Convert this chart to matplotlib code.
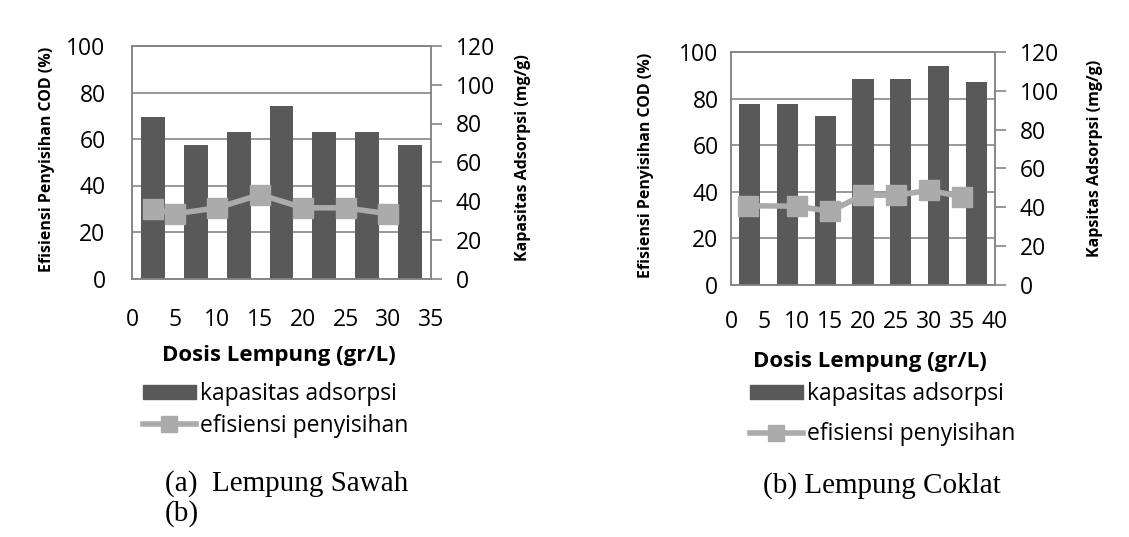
import numpy as np
import matplotlib
matplotlib.use('Agg')
import matplotlib.pyplot as plt
from matplotlib.patches import Patch
from matplotlib.lines import Line2D

plt.rcParams['font.family'] = ['Open Sans', 'DejaVu Sans']

# (a) Lempung Sawah
sawah_kap = [83.3, 68.8, 75.5, 88.9, 75.5, 75.5, 68.8]      # mg/g
sawah_dosis = [2.5, 5, 10, 15, 20, 25, 30]                 # gr/L
sawah_eff = [30.0, 27.8, 30.4, 36.1, 30.4, 30.4, 27.8]     # %
sawah_xmax = 35

# (b) Lempung Coklat
coklat_kap = [93.1, 93.1, 86.8, 106.1, 106.1, 112.6, 104.7]
coklat_dosis = [2.5, 10, 15, 20, 25, 30, 35]
coklat_eff = [33.9, 33.7, 31.5, 38.5, 38.4, 40.5, 37.8]
coklat_xmax = 40

W, H = 1129, 537
BAR = '#595959'
LINE = '#ababab'
GRID = '#868686'
FS = 16.5
LBL = 16
YFS = 11.5

fig = plt.figure(figsize=(W / 100, H / 100), dpi=100)


def rect(x0, y0, x1, y1):
    # pixel box -> figure fraction
    return [x0 / W, 1 - y1 / H, (x1 - x0) / W, (y1 - y0) / H]


def panel(box, kap, dosis, eff, xmax, xpad, lpad):
    ax = fig.add_axes(rect(*box))
    ax.set_xlim(0, xmax)
    ax.set_ylim(0, 100)
    ax.set_xticks(range(0, xmax + 1, 5))
    ax.set_yticks(range(0, 101, 20))
    ax.yaxis.grid(True, color=GRID, lw=1.2)
    ax.tick_params(axis='both', length=0, labelsize=FS)
    ax.tick_params(axis='x', pad=xpad)
    ax.tick_params(axis='y', pad=lpad)
    for s in ax.spines.values():
        s.set_color(GRID)
        s.set_linewidth(1.2)

    ax2 = ax.twinx()
    ax2.set_ylim(0, 120)
    ax2.set_yticks(range(0, 121, 20))
    ax2.tick_params(axis='y', direction='out', length=8, width=1.2,
                    color=GRID, labelsize=FS, pad=10)
    for s in ax2.spines.values():
        s.set_color(GRID)
        s.set_linewidth(1.2)
    n = len(kap)
    centers = (np.arange(n) + 0.5) * xmax / n
    ax2.bar(centers, kap, width=0.56 * xmax / n, color=BAR, zorder=2)

    ax3 = ax.twinx()
    ax3.set_ylim(0, 100)
    ax3.set_axis_off()
    ax3.plot(dosis, eff, color=LINE, lw=4, marker='s', ms=14,
             mec=LINE, mfc=LINE, clip_on=False)
    return ax


panel((132, 46, 431, 278.5), sawah_kap, sawah_dosis, sawah_eff,
      sawah_xmax, 21, 19)
panel((731, 52, 995, 284.6), coklat_kap, coklat_dosis, coklat_eff,
      coklat_xmax, 18, 9)

yl = 'Efisiensi Penyisihan COD (%)'
fig.text(47 / W, 1 - 159 / H, yl, rotation=90, ha='center', va='center',
         fontsize=YFS, fontweight='bold')
fig.text(523 / W, 1 - 158 / H, 'Kapasitas Adsorpsi (mg/g)', rotation=90,
         ha='center', va='center', fontsize=YFS, fontweight='bold')
fig.text(646 / W, 1 - 165 / H, yl, rotation=90, ha='center', va='center',
         fontsize=YFS, fontweight='bold')
fig.text(1095 / W, 1 - 158 / H, 'Kapsitas Adsorpsi (mg/g)', rotation=90,
         ha='center', va='center', fontsize=YFS, fontweight='bold')

fig.text(279 / W, 1 - 355 / H, 'Dosis Lempung (gr/L)', ha='center',
         va='center', fontsize=LBL, fontweight='bold')
fig.text(870 / W, 1 - 362 / H, 'Dosis Lempung (gr/L)', ha='center',
         va='center', fontsize=LBL, fontweight='bold')

handles = [Patch(color=BAR),
           Line2D([], [], color=LINE, lw=4, marker='s', ms=12,
                  mec=LINE, mfc=LINE)]
labels = ['kapasitas adsorpsi', 'efisiensi penyisihan']
fig.legend(handles, labels, loc='upper left',
           bbox_to_anchor=(143 / W, 1 - 382 / H), frameon=False,
           fontsize=FS, handlelength=2.3, handleheight=0.6,
           handletextpad=0.2, labelspacing=0.35,
           borderaxespad=0, borderpad=0)
fig.legend(handles, labels, loc='upper left',
           bbox_to_anchor=(750 / W, 1 - 382 / H), frameon=False,
           fontsize=FS, handlelength=2.3, handleheight=0.6,
           handletextpad=0.2, labelspacing=0.72,
           borderaxespad=0, borderpad=0)

serif = ['Liberation Serif', 'DejaVu Serif']
fig.text(165 / W, 1 - 484 / H, '(a)  Lempung Sawah', family=serif,
         fontsize=21, ha='left', va='center')
fig.text(165 / W, 1 - 514 / H, '(b)', family=serif, fontsize=21,
         ha='left', va='center')
fig.text(763 / W, 1 - 486 / H, '(b) Lempung Coklat', family=serif,
         fontsize=21, ha='left', va='center')

fig.savefig('out.png', dpi=100)
